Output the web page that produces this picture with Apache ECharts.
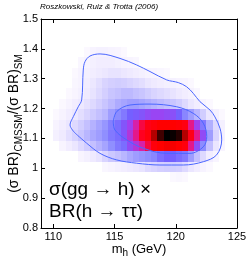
<!DOCTYPE html>
<html><head><meta charset="utf-8">
<script src="https://cdn.jsdelivr.net/npm/echarts@6/dist/echarts.min.js"></script>
<style>html,body{margin:0;padding:0;background:#fff}#c{width:249px;height:262px}</style>
</head><body><div id="c"></div>
<script>
// ---- data ----
const xTicks = [110, 115, 120, 125];
const yTicks = [0.8, 0.9, 1.0, 1.1, 1.2, 1.3, 1.4, 1.5];
const colX = [110.25,110.75,111.25,111.75,112.25,112.75,113.25,113.75,114.25,114.75,115.25,115.75,116.25,116.75,117.25,117.75,118.25,118.75,119.25,119.75,120.25,120.75,121.25,121.75,122.25,122.75,123.25,123.75];
const rowY = [1.39, 1.355, 1.32, 1.285, 1.25, 1.215, 1.18, 1.145, 1.11, 1.075, 1.04, 1.005, 0.97];
const density = [
 [0,0,0,0,0,0.03,0.06,0.07,0.07,0.06,0.05,0.03,0,0,0,0,0,0,0,0,0,0,0,0,0,0,0,0],
 [0,0,0,0,0.04,0.06,0.08,0.1,0.1,0.1,0.08,0.06,0.05,0.04,0,0,0,0,0,0,0,0,0,0,0,0,0,0],
 [0,0,0,0.03,0.06,0.08,0.1,0.12,0.14,0.16,0.16,0.14,0.12,0.1,0.08,0.06,0.05,0.04,0.03,0,0,0,0,0,0,0,0,0],
 [0,0,0,0.04,0.06,0.1,0.14,0.18,0.22,0.24,0.25,0.24,0.22,0.2,0.18,0.15,0.12,0.1,0.08,0.07,0.06,0.05,0.03,0,0,0,0,0],
 [0,0,0.03,0.05,0.08,0.12,0.16,0.2,0.24,0.28,0.3,0.32,0.32,0.3,0.28,0.25,0.22,0.2,0.18,0.16,0.13,0.1,0.07,0.04,0,0,0,0],
 [0,0.03,0.06,0.1,0.13,0.17,0.2,0.24,0.28,0.32,0.36,0.38,0.4,0.4,0.38,0.36,0.34,0.32,0.3,0.28,0.25,0.2,0.15,0.1,0.06,0.03,0,0],
 [0.03,0.06,0.1,0.14,0.18,0.22,0.26,0.3,0.33,0.4,0.45,0.48,0.52,0.53,0.54,0.56,0.57,0.57,0.56,0.55,0.52,0.46,0.4,0.33,0.25,0.15,0.08,0.03],
 [0.06,0.1,0.15,0.2,0.25,0.3,0.34,0.38,0.42,0.47,0.5,0.54,0.58,0.64,0.7,0.74,0.76,0.78,0.78,0.78,0.77,0.75,0.66,0.58,0.48,0.35,0.2,0.08],
 [0.08,0.12,0.18,0.23,0.28,0.33,0.37,0.4,0.44,0.48,0.5,0.54,0.6,0.66,0.72,0.76,0.86,0.94,1.0,0.99,0.96,0.86,0.74,0.66,0.56,0.4,0.22,0.08],
 [0,0.05,0.1,0.15,0.2,0.25,0.3,0.34,0.38,0.44,0.48,0.5,0.56,0.6,0.64,0.7,0.76,0.78,0.79,0.79,0.78,0.76,0.66,0.56,0.45,0.3,0.15,0.05],
 [0,0,0,0,0.05,0.08,0.12,0.16,0.22,0.27,0.3,0.33,0.37,0.4,0.42,0.44,0.46,0.5,0.52,0.52,0.5,0.48,0.4,0.3,0.2,0.1,0.05,0],
 [0,0,0,0,0,0,0,0,0.04,0.06,0.08,0.1,0.12,0.14,0.16,0.2,0.22,0.24,0.25,0.25,0.24,0.2,0.15,0.1,0.06,0.03,0,0],
 [0,0,0,0,0,0,0,0,0,0,0,0,0,0,0,0,0,0,0,0.03,0.04,0.03,0,0,0,0,0,0]
];
const binW = 0.5, binH = 0.035;
const outerContour = [[111.78,1.118],[111.37,1.145],[111.64,1.173],[112.04,1.206],[112.32,1.229],[112.45,1.329],[112.59,1.357],[113.0,1.376],[113.82,1.383],[115.45,1.368],[116.81,1.346],[117.90,1.324],[119.26,1.296],[120.21,1.287],[120.89,1.273],[121.43,1.251],[121.98,1.223],[122.80,1.195],[123.20,1.172],[123.61,1.134],[123.75,1.095],[123.34,1.045],[122.25,1.022],[120.62,1.011],[118.71,1.011],[116.81,1.017],[115.18,1.028],[113.82,1.050],[112.73,1.084],[111.78,1.118]];
const innerContour = [[114.90,1.156],[115.18,1.190],[116.27,1.212],[117.90,1.215],[120.08,1.206],[121.43,1.184],[122.25,1.151],[122.53,1.106],[122.25,1.072],[121.16,1.050],[119.26,1.050],[117.35,1.067],[116.0,1.095],[115.04,1.128],[114.90,1.156]];

// ---- styling ----
const FONT = '"Liberation Sans", Arial, sans-serif';
const cmap = [[0,'#ffffff'],[0.05,'#f8f4ff'],[0.15,'#ebe6ff'],[0.3,'#c4c0ff'],[0.45,'#8c8cff'],[0.52,'#7460ff'],[0.58,'#a040f0'],[0.65,'#e01c9c'],[0.72,'#ff0020'],[0.78,'#ff0000'],[0.88,'#a00000'],[0.95,'#300000'],[1,'#000000']];
function hex(c){return [parseInt(c.slice(1,3),16),parseInt(c.slice(3,5),16),parseInt(c.slice(5,7),16)];}
function colorFor(v){
  for(let i=1;i<cmap.length;i++){
    if(v<=cmap[i][0]){
      const a=cmap[i-1],b=cmap[i];const t=(v-a[0])/(b[0]-a[0]);
      const ca=hex(a[1]),cb=hex(b[1]);
      return 'rgb('+ca.map((x,k)=>Math.round(x+(cb[k]-x)*t)).join(',')+')';
    }
  }
  return '#000';
}
const cells=[];
rowY.forEach((y,r)=>colX.forEach((x,c)=>{const v=density[r][c]; if(v>0) cells.push([x,y,v]);}));

const chart = echarts.init(document.getElementById('c'), null, {renderer:'canvas'});
const tickStyle = {show:true, inside:true, length:4, lineStyle:{color:'#000',width:1}};
chart.setOption({
  animation:false,
  backgroundColor:'#fff',
  grid:{left:41, top:19, right:12, bottom:34, containLabel:false, outerBoundsMode:'none'},
  xAxis:[
   {type:'value', min:109, max:125, position:'bottom',
    axisLine:{show:true,onZero:false,lineStyle:{color:'#000',width:1}},
    axisTick:Object.assign({customValues:xTicks},tickStyle),
    axisLabel:{customValues:xTicks, color:'#000', fontSize:11, fontFamily:FONT, margin:3},
    splitLine:{show:false},
    name:'m{s|h} (GeV)', nameLocation:'middle', nameGap:13, nameMoveOverlap:false,
    nameTextStyle:{color:'#000', fontSize:13, fontFamily:FONT, rich:{s:{fontSize:10, fontFamily:FONT, color:'#000', padding:[7,0,0,0]}}}
   },
   {type:'value', min:109, max:125, position:'top',
    axisLine:{show:true,onZero:false,lineStyle:{color:'#000',width:1}},
    axisTick:Object.assign({customValues:xTicks},tickStyle),
    axisLabel:{show:false}, splitLine:{show:false}}
  ],
  yAxis:[
   {type:'value', min:0.8, max:1.5, position:'left',
    axisLine:{show:true,onZero:false,lineStyle:{color:'#000',width:1}},
    axisTick:Object.assign({customValues:yTicks},tickStyle),
    axisLabel:{customValues:yTicks, color:'#000', fontSize:11, fontFamily:FONT, margin:3, formatter:v=>String(+v.toFixed(1))},
    splitLine:{show:false},
    name:'{n|(σ BR)}{s|CMSSM}{n|/(σ BR)}{s|SM}', nameLocation:'middle', nameGap:17, nameRotate:90, nameMoveOverlap:false,
    nameTextStyle:{rich:{
      n:{fontSize:14, fontFamily:FONT, color:'#000', lineHeight:15, verticalAlign:'top'},
      s:{fontSize:10, fontFamily:FONT, color:'#000', lineHeight:17, verticalAlign:'bottom'}}}
   },
   {type:'value', min:0.8, max:1.5, position:'right',
    axisLine:{show:true,onZero:false,lineStyle:{color:'#000',width:1}},
    axisTick:Object.assign({customValues:yTicks},tickStyle),
    axisLabel:{show:false}, splitLine:{show:false}}
  ],
  series:[
   {type:'custom', xAxisIndex:0, yAxisIndex:0, data:cells, z:1,
    renderItem:function(params, api){
      const x=api.value(0), y=api.value(1), v=api.value(2);
      const p0=api.coord([x-binW/2, y+binH/2]);
      const p1=api.coord([x+binW/2, y-binH/2]);
      const x0=Math.round(p0[0]), y0=Math.round(p0[1]), x1=Math.round(p1[0]), y1=Math.round(p1[1]);
      return {type:'rect', shape:{x:x0,y:y0,width:x1-x0,height:y1-y0}, style:{fill:colorFor(v)}};
    }},
   {type:'line', data:outerContour, smooth:0.35, symbol:'none', z:3,
    lineStyle:{color:'#4a66ff', width:1}},
   {type:'line', data:innerContour, smooth:0.35, symbol:'none', z:3,
    lineStyle:{color:'#4a66ff', width:1}}
  ],
  graphic:[
   {type:'text', left:40, top:3, z:10, style:{text:'Roszkowski, Ruiz & Trotta (2006)', font:'italic 8px '+FONT, fill:'#000'}},
   {type:'text', x:49, y:190, z:10, style:{text:'σ(gg → h) ×', font:'19px '+FONT, fill:'#000', verticalAlign:'middle'}},
   {type:'text', x:49, y:212, z:10, style:{text:'BR(h → ττ)', font:'19px '+FONT, fill:'#000', verticalAlign:'middle'}}
  ]
});
</script></body></html>
